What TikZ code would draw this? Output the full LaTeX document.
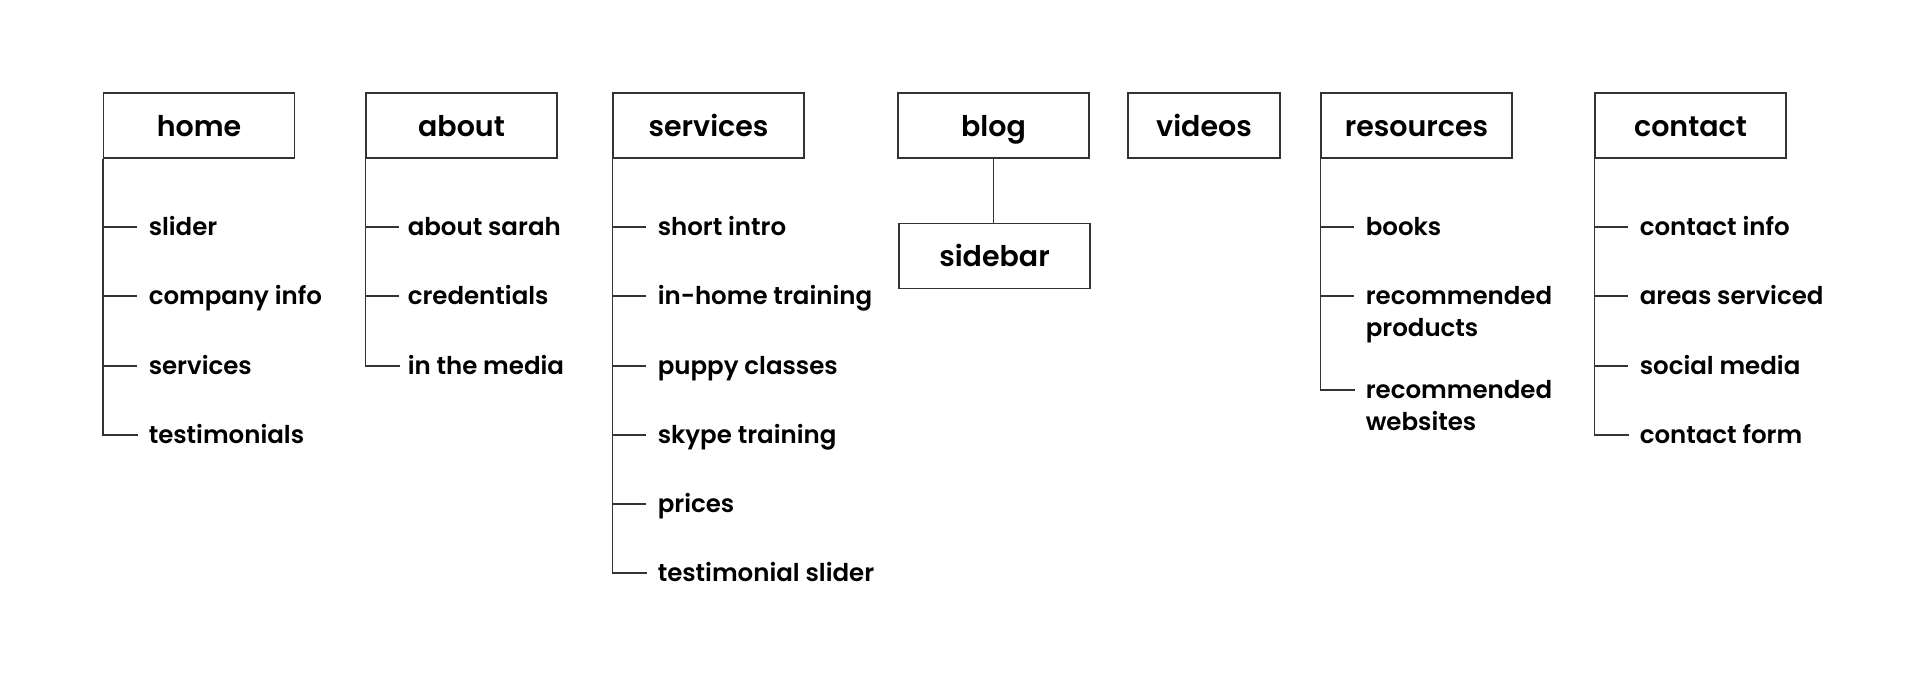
\documentclass[tikz,border=0pt]{standalone}
\usepackage{fontspec}
\setmainfont{Poppins}[UprightFont=* SemiBold]
\usetikzlibrary{calc}
\begin{document}
\begin{tikzpicture}[x=1pt,y=-1pt,
  line width=1.5pt,
  box/.style={draw=black!80, minimum width=191pt, minimum height=65pt, inner sep=0pt,
    text height=27pt, text depth=6pt,
    font=\fontsize{28.5}{32}\selectfont},
  item/.style={anchor=base west, inner sep=0pt, font=\fontsize{24.5}{32}\selectfont},
  link/.style={draw=black!80}]
\useasboundingbox (0,0) rectangle (1921,696);
% top-level pages
\node[box] (home) at (199,125.5) {home};
\node[box] (about) at (461.5,125.5) {about};
\node[box] (services) at (708.5,125.5) {services};
\node[box] (blog) at (993.5,125.5) {blog};
\node[box, minimum width=152pt] (videos) at (1204,125.5) {videos};
\node[box] (resources) at (1416.5,125.5) {resources};
\node[box] (contact) at (1690.5,125.5) {contact};
\node[box] (sidebar) at (994.5,256) {sidebar};
\draw[link] (blog.south) -- (blog.south |- sidebar.north);
% home
\node[item] (h1) at (148,235) {slider};
\node[item] (h2) at (148,304) {company info};
\node[item] (h3) at (148,374) {services};
\node[item] (h4) at (148,443) {testimonials};
\draw[link] (home.south west) |- ([shift={(-10,-8)}]h4.base west);
\foreach \n in {h1,h2,h3}
  \draw[link] (\n.base west -| home.west) ++(0,-8) -- ++(34,0);
% about
\node[item] (a1) at (407,235) {about sarah};
\node[item] (a2) at (407,304) {credentials};
\node[item] (a3) at (407,374) {in the media};
\draw[link] (about.south west) |- ([shift={(-7,-8)}]a3.base west);
\foreach \n in {a1,a2}
  \draw[link] (\n.base west -| about.west) ++(0,-8) -- ++(34,0);
% services
\node[item] (s1) at (657,235) {short intro};
\node[item] (s2) at (657,304) {in-home training};
\node[item] (s3) at (657,374) {puppy classes};
\node[item] (s4) at (657,443) {skype training};
\node[item] (s5) at (657,512) {prices};
\node[item] (s6) at (657,581) {testimonial slider};
\draw[link] (services.south west) |- ([shift={(-10,-8)}]s6.base west);
\foreach \n in {s1,s2,s3,s4,s5}
  \draw[link] (\n.base west -| services.west) ++(0,-8) -- ++(34,0);
% resources
\node[item] (r1) at (1365,235) {books};
\node[item] (r2) at (1365,304) {\vtop{\hbox{recommended}\hbox{products}}};
\node[item] (r3) at (1365,398) {\vtop{\hbox{recommended}\hbox{websites}}};
\draw[link] (resources.south west) |- ([shift={(-10,-8)}]r3.base west);
\foreach \n in {r1,r2}
  \draw[link] (\n.base west -| resources.west) ++(0,-8) -- ++(34,0);
% contact
\node[item] (c1) at (1639,235) {contact info};
\node[item] (c2) at (1639,304) {areas serviced};
\node[item] (c3) at (1639,374) {social media};
\node[item] (c4) at (1639,443) {contact form};
\draw[link] (contact.south west) |- ([shift={(-10,-8)}]c4.base west);
\foreach \n in {c1,c2,c3}
  \draw[link] (\n.base west -| contact.west) ++(0,-8) -- ++(34,0);
\end{tikzpicture}
\end{document}
